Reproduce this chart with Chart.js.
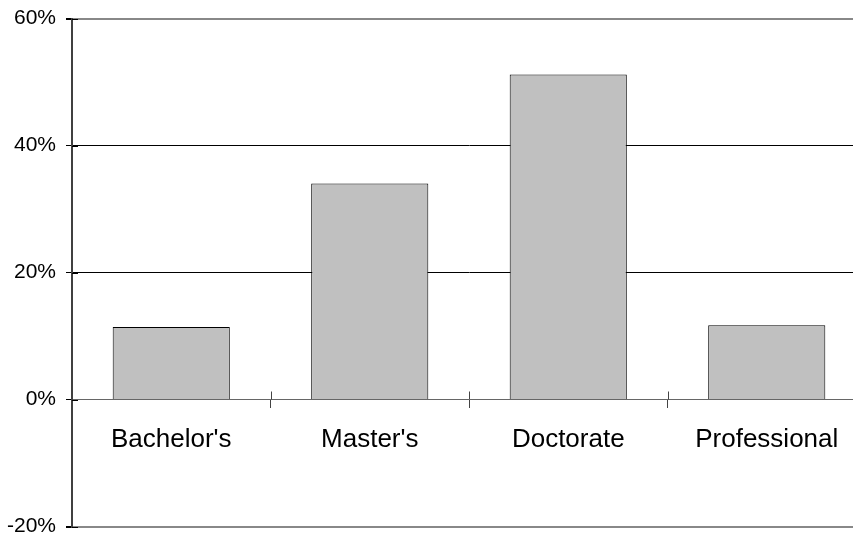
<!DOCTYPE html>
<html>
<head>
<meta charset="utf-8">
<script src="https://cdn.jsdelivr.net/npm/chart.js@4/dist/chart.umd.min.js"></script>
<style>
  html, body { margin: 0; padding: 0; background: #fff; overflow: hidden; }
  #wrap { width: 853px; height: 537px; overflow: hidden; }
  #myChart { margin-top: -2px; display: block; }
</style>
</head>
<body>
<div id="wrap"><canvas id="myChart" width="870" height="549"></canvas></div>
<script>
const categories = ["Bachelor's", "Master's", 'Doctorate', 'Professional'];
const shares = [11.4, 34.0, 51.2, 11.7];
const yTicks = [-20, 0, 20, 40, 60];

// tick marks that cross the zero line between categories
const crossTicks = {
  id: 'crossTicks',
  afterDatasetsDraw(chart) {
    const { ctx, scales: { x, y } } = chart;
    const zero = y.getPixelForValue(0);
    ctx.save();
    ctx.strokeStyle = '#444';
    ctx.lineWidth = 1;
    for (let i = 0; i < categories.length - 1; i++) {
      const px = Math.round((x.getPixelForValue(i) + x.getPixelForValue(i + 1)) / 2) + 0.5;
      ctx.beginPath();
      ctx.moveTo(px, zero - 8);
      ctx.lineTo(px, zero);
      ctx.stroke();
    }
    ctx.strokeStyle = '#000';
    yTicks.forEach(v => {
      const py = Math.round(y.getPixelForValue(v)) + 0.5;
      ctx.beginPath();
      ctx.moveTo(x.left, py);
      ctx.lineTo(x.left + 6, py);
      ctx.stroke();
    });
    ctx.restore();
  }
};

const ctx = document.querySelector('#myChart').getContext('2d');
new Chart(ctx, {
  type: 'bar',
  data: {
    labels: categories,
    datasets: [{
      data: shares,
      backgroundColor: '#c0c0c0',
      borderColor: '#000',
      borderWidth: 1,
      categoryPercentage: 1,
      barPercentage: 0.59
    }]
  },
  options: {
    responsive: false,
    animation: false,
    layout: { padding: { top: 14, bottom: 1, left: 0, right: 4 } },
    plugins: { legend: { display: false }, tooltip: { enabled: false } },
    scales: {
      x: {
        position: { y: 0 },
        offset: true,
        grid: {
          offset: true,
          drawOnChartArea: false,
          tickLength: 8,
          tickColor: '#444'
        },
        border: { color: '#666', width: 1 },
        ticks: {
          color: '#000',
          padding: 19,
          maxRotation: 0,
          font: { family: 'Arial, "Liberation Sans", sans-serif', size: 26, lineHeight: 1 }
        }
      },
      y: {
        min: -20,
        max: 60,
        afterBuildTicks: scale => { scale.ticks = yTicks.map(v => ({ value: v })); },
        afterFit: scale => { scale.width = 72; },
        grid: {
          tickLength: 6,
          tickColor: '#000',
          color: c => {
            const v = c.tick && c.tick.value;
            if (v === 60 || v === -20) return '#888';
            if (v === 0) return 'rgba(0,0,0,0)';
            return '#000';
          },
          lineWidth: c => {
            const v = c.tick && c.tick.value;
            return (v === 60 || v === -20) ? 2 : 1;
          }
        },
        border: { color: '#404040', width: 2 },
        ticks: {
          color: '#000',
          padding: 10,
          callback: v => v + '%',
          font: { family: 'Arial, "Liberation Sans", sans-serif', size: 21, lineHeight: 1 }
        }
      }
    }
  },
  plugins: [crossTicks]
});
</script>
</body>
</html>
